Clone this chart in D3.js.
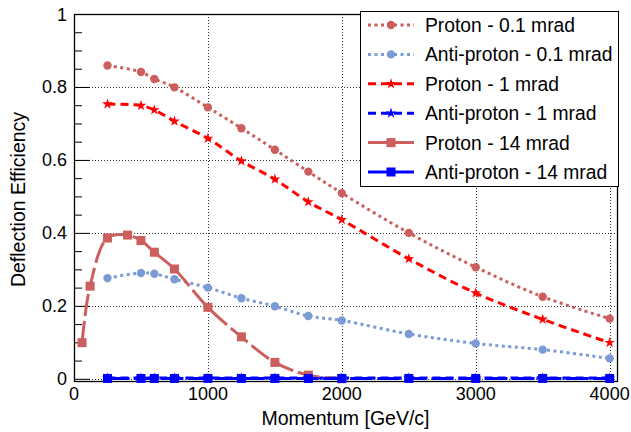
<!DOCTYPE html>
<html>
<head>
<meta charset="utf-8">
<script src="https://cdn.jsdelivr.net/npm/d3@7"></script>
<style>
  body { margin: 0; background: #fff; }
  text { font-family: "Liberation Sans", Arial, sans-serif; fill: #000; }
</style>
</head>
<body>
<div id="chart"></div>
<script>
// momentum points (GeV/c)
var momentum = [250, 500, 600, 750, 1000, 1250, 1500, 1750, 2000, 2500, 3000, 3500, 4000];
var momentum14 = [60, 120, 250, 400, 500, 600, 750, 1000, 1250, 1500, 1750, 2000];

// deflection efficiency per series
var proton01 = [0.859, 0.841, 0.822, 0.799, 0.744, 0.687, 0.628, 0.568, 0.509, 0.400, 0.306, 0.225, 0.165];
var antiproton01 = [0.276, 0.290, 0.288, 0.273, 0.250, 0.221, 0.199, 0.172, 0.160, 0.123, 0.097, 0.080, 0.056];
var proton1 = [0.753, 0.749, 0.737, 0.706, 0.659, 0.597, 0.547, 0.485, 0.436, 0.329, 0.235, 0.163, 0.099];
var antiproton1 = [0.002, 0.002, 0.002, 0.002, 0.002, 0.002, 0.002, 0.002, 0.002, 0.002, 0.002, 0.002, 0.002];
var proton14 = [0.099, 0.254, 0.386, 0.394, 0.379, 0.347, 0.301, 0.196, 0.115, 0.045, 0.010, 0.0];
var antiproton14 = [0.001, 0.001, 0.001, 0.001, 0.001, 0.001, 0.001, 0.001, 0.001, 0.001, 0.001, 0.001, 0.001];

var xTicks = [0, 1000, 2000, 3000, 4000];
var yTicks = [0, 0.2, 0.4, 0.6, 0.8, 1];

var width = 631,
  height = 432,
  plot = { left: 74, right: 617, top: 14, bottom: 381 };

var series = [
  { name: "Proton - 0.1 mrad", x: momentum, y: proton01, colour: "#cc5e5e", dash: "3,3.5", marker: "circle" },
  { name: "Anti-proton - 0.1 mrad", x: momentum, y: antiproton01, colour: "#7b9bd6", dash: "3,3.5", marker: "circle" },
  { name: "Proton - 1 mrad", x: momentum, y: proton1, colour: "#ff0000", dash: "8,5", marker: "star" },
  { name: "Anti-proton - 1 mrad", x: momentum, y: antiproton1, colour: "#0000ff", dash: "8,5", marker: "star" },
  { name: "Proton - 14 mrad", x: momentum14, y: proton14, colour: "#cc5e5e", dash: "22,5", marker: "square" },
  { name: "Anti-proton - 14 mrad", x: momentum, y: antiproton14, colour: "#0000ff", dash: "22,5", marker: "square" }
];

var x = d3.scaleLinear().domain([0, 4055]).range([plot.left, plot.right]);
var y = d3.scaleLinear().domain([-0.006, 1]).range([plot.bottom, plot.top]);

var svg = d3.select('#chart')
  .append('svg')
  .attr('width', width)
  .attr('height', height);

svg.append('rect')
  .attr('width', width)
  .attr('height', height)
  .attr('fill', '#fff');

// grid
svg.append('g')
  .selectAll('line')
  .data(xTicks.slice(1))
  .enter()
  .append('line')
  .attr('x1', function(d) { return Math.round(x(d)) + 0.5; })
  .attr('x2', function(d) { return Math.round(x(d)) + 0.5; })
  .attr('y1', plot.top)
  .attr('y2', plot.bottom)
  .attr('stroke', '#333')
  .attr('stroke-dasharray', '1,2');

svg.append('g')
  .selectAll('line')
  .data(yTicks)
  .enter()
  .append('line')
  .attr('x1', plot.left)
  .attr('x2', plot.right)
  .attr('y1', function(d) { return Math.round(y(d)) + 0.5; })
  .attr('y2', function(d) { return Math.round(y(d)) + 0.5; })
  .attr('stroke', '#333')
  .attr('stroke-dasharray', '1,2');

// y ticks, inside, major every 0.2 and minor every 0.05
var yAxis = d3.axisRight(y)
  .tickValues(d3.range(0, 1.001, 0.05))
  .tickSize(8)
  .tickFormat('');
var yAxisG = svg.append('g')
  .attr('transform', 'translate(' + plot.left + ',0)')
  .call(yAxis);
yAxisG.select('.domain').remove();
yAxisG.selectAll('.tick line')
  .attr('stroke', '#000')
  .attr('x2', function(d) { return Math.abs(d * 5 - Math.round(d * 5)) < 1e-6 ? 16 : 8; });

// frame
svg.append('rect')
  .attr('x', plot.left + 0.5)
  .attr('y', plot.top + 0.5)
  .attr('width', plot.right - plot.left)
  .attr('height', plot.bottom - plot.top)
  .attr('fill', 'none')
  .attr('stroke', '#000')
  .attr('stroke-width', 1.3);

// tick labels
svg.append('g')
  .selectAll('text')
  .data(xTicks)
  .enter()
  .append('text')
  .attr('x', function(d) { return x(d); })
  .attr('y', 400)
  .attr('text-anchor', 'middle')
  .attr('font-size', '18px')
  .text(function(d) { return d; });

svg.append('g')
  .selectAll('text')
  .data(yTicks)
  .enter()
  .append('text')
  .attr('x', 67)
  .attr('y', function(d) { return y(d) + 6.5; })
  .attr('text-anchor', 'end')
  .attr('font-size', '18px')
  .text(function(d) { return d3.format('~g')(d); });

// axis titles
svg.append('text')
  .attr('x', (plot.left + plot.right) / 2)
  .attr('y', 425)
  .attr('text-anchor', 'middle')
  .attr('font-size', '19.5px')
  .text('Momentum [GeV/c]');

svg.append('text')
  .attr('transform', 'translate(25,' + ((plot.top + plot.bottom) / 2 + 2) + ') rotate(-90)')
  .attr('text-anchor', 'middle')
  .attr('font-size', '19.5px')
  .text('Deflection Efficiency');

function drawMarker(g, type, cx, cy, colour) {
  if (type === 'circle') {
    g.append('circle').attr('cx', cx).attr('cy', cy).attr('r', 4.2).attr('fill', colour);
  } else if (type === 'square') {
    g.append('rect').attr('x', cx - 4.5).attr('y', cy - 4.5).attr('width', 9).attr('height', 9).attr('fill', colour);
  } else {
    g.append('path')
      .attr('d', d3.symbol().type(d3.symbolStar).size(36)())
      .attr('transform', 'translate(' + cx + ',' + cy + ')')
      .attr('fill', colour);
  }
}

var line = d3.line()
  .x(function(d) { return x(d[0]); })
  .y(function(d) { return y(d[1]); })
  .curve(d3.curveCatmullRom.alpha(0.5));

var plotG = svg.append('g');

series.forEach(function(s) {
  var pts = s.x.map(function(v, i) { return [v, s.y[i]]; });
  var g = plotG.append('g');
  g.append('path')
    .attr('d', line(pts))
    .attr('fill', 'none')
    .attr('stroke', s.colour)
    .attr('stroke-width', 3)
    .attr('stroke-dasharray', s.dash);
  pts.forEach(function(p) {
    drawMarker(g, s.marker, x(p[0]), y(p[1]), s.colour);
  });
});

// legend
var legend = svg.append('g');
legend.append('rect')
  .attr('x', 360.5)
  .attr('y', 11.5)
  .attr('width', 258)
  .attr('height', 175)
  .attr('fill', '#fff')
  .attr('stroke', '#000');

series.forEach(function(s, i) {
  var cy = 25 + i * 29.4;
  var g = legend.append('g');
  g.append('line')
    .attr('x1', 368)
    .attr('x2', 414)
    .attr('y1', cy)
    .attr('y2', cy)
    .attr('stroke', s.colour)
    .attr('stroke-width', 3)
    .attr('stroke-dasharray', s.dash);
  drawMarker(g, s.marker, 391, cy, s.colour);
  g.append('text')
    .attr('x', 425)
    .attr('y', cy + 7)
    .attr('font-size', '19.3px')
    .text(s.name);
});
</script>
</body>
</html>
